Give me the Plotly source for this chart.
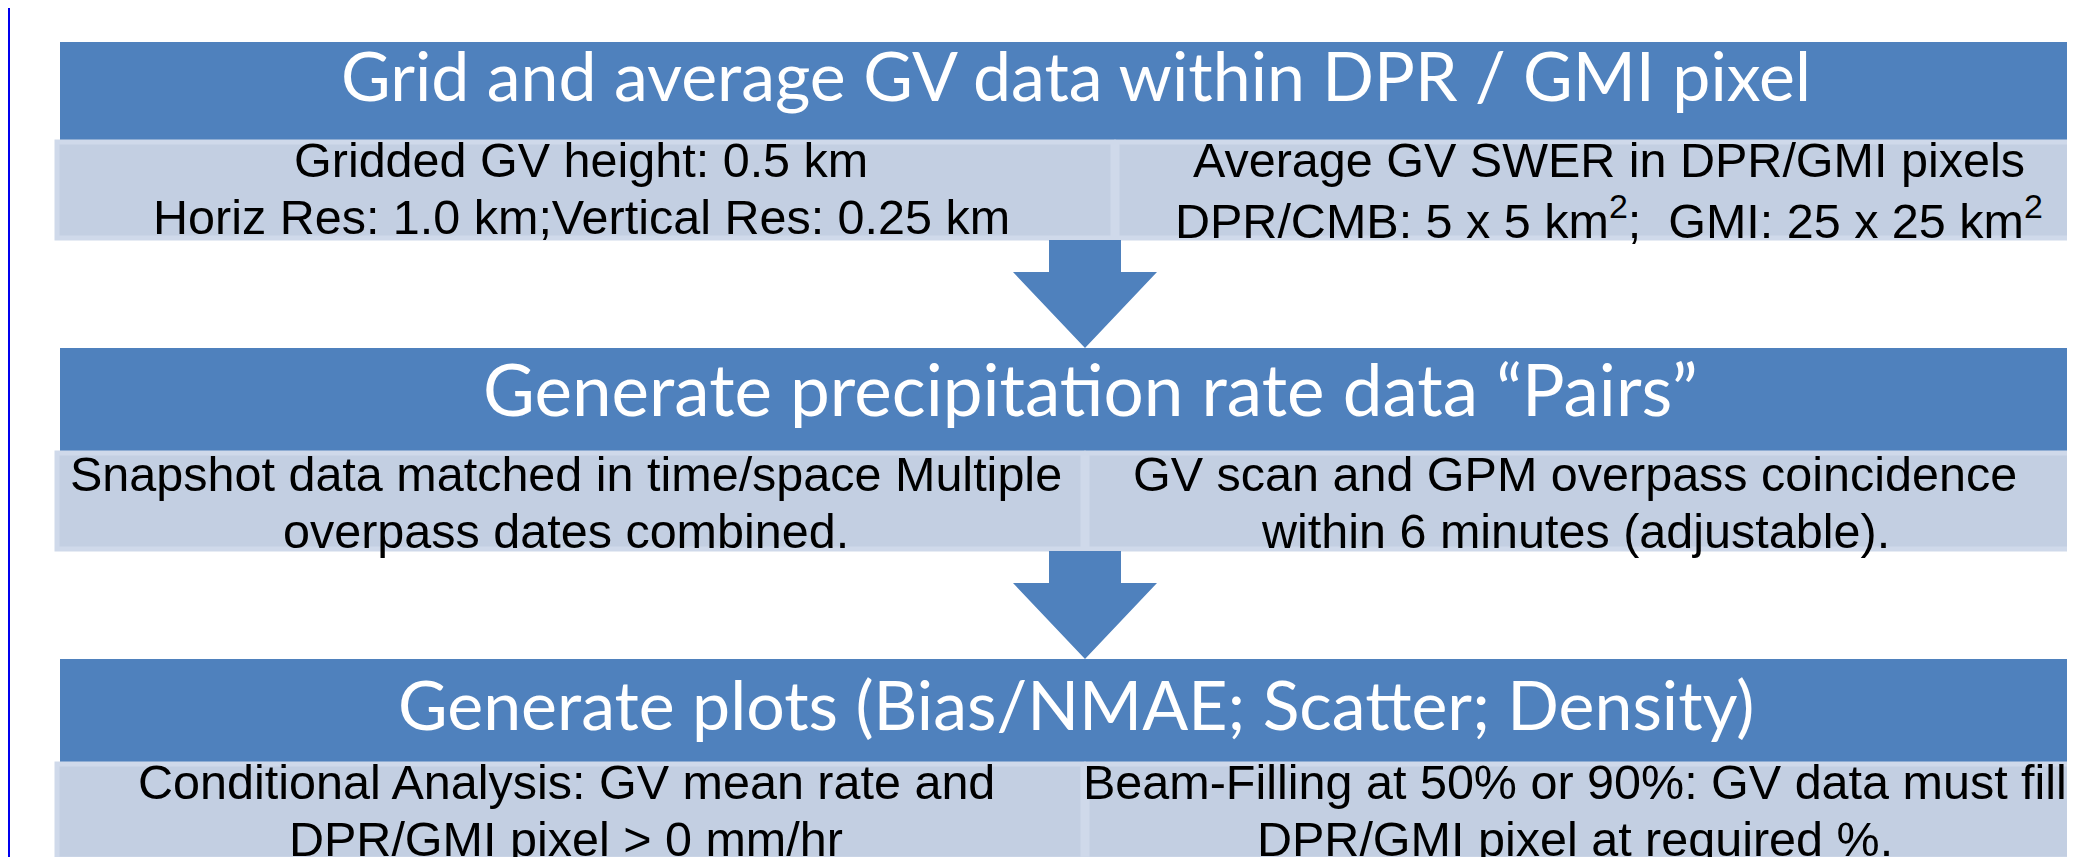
import plotly.graph_objects as go

# text content of the three process steps
step_titles = [
    "Grid and average GV data within DPR / GMI pixel",
    "Generate precipitation rate data \u201cPairs\u201d",
    "Generate plots (Bias/NMAE; Scatter; Density)",
]
left_notes = [
    ["Gridded GV height: 0.5 km", "Horiz Res: 1.0 km;Vertical Res: 0.25 km"],
    ["Snapshot data matched in time/space Multiple", "overpass dates combined."],
    ["Conditional Analysis: GV mean rate and", "DPR/GMI pixel > 0 mm/hr"],
]
right_notes = [
    ["Average GV SWER in DPR/GMI pixels",
     "DPR/CMB: 5 x 5 km<sup>2</sup>;  GMI: 25 x 25 km<sup>2</sup>"],
    ["GV scan and GPM overpass coincidence", "within 6 minutes (adjustable)."],
    ["Beam-Filling at 50% or 90%: GV data must fill", "DPR/GMI pixel at required %."],
]

# layout of the diagram (pixel space of the page)
W, H = 2075, 857
header_top = [34, 340, 651]
header_bottom = [132, 443, 754]
note_bottom = [232, 543, 853]
divider_x = [1107, 1077, 1077]
right_edge = [2103, 2065, 2065]
title_x = [1068, 1082, 1068]
title_y = [66, 380, 695]
title_size = [68, 71, 68]
line_y = [[152, 209], [466, 523], [774, 831]]

HEADER = "#4f81bd"
NOTE_FILL = "#c3cfe2"
NOTE_EDGE = "#cfd9ea"
TITLE_FONT = "Lato, Calibri, Carlito, sans-serif"
BODY_FONT = "Liberation Sans, Arial, sans-serif"

fig = go.Figure()
shapes = []
annotations = []

for i in range(3):
    # blue header band
    shapes.append(dict(type="rect", x0=52, x1=2130, y0=header_top[i], y1=header_bottom[i],
                       fillcolor=HEADER, line_width=0, layer="below"))
    # two light note cells
    for x0, x1 in [(49, divider_x[i] - 2), (divider_x[i] + 2, 2130)]:
        shapes.append(dict(type="rect", x0=x0, x1=x1, y0=header_bottom[i] + 2, y1=note_bottom[i] - 2,
                           fillcolor=NOTE_FILL, line=dict(color=NOTE_EDGE, width=5), layer="below"))
    annotations.append(dict(x=title_x[i], y=title_y[i], text=step_titles[i], showarrow=False,
                            xanchor="center", yanchor="middle",
                            font=dict(family=TITLE_FONT, size=title_size[i], color="white")))
    lc = (47 + divider_x[i]) / 2 - 4
    rc = (divider_x[i] + right_edge[i]) / 2 - 4
    for j in range(2):
        annotations.append(dict(x=lc, y=line_y[i][j], text=left_notes[i][j], showarrow=False,
                                xanchor="center", yanchor="middle",
                                font=dict(family=BODY_FONT, size=48.5, color="black")))
        annotations.append(dict(x=rc, y=line_y[i][j], text=right_notes[i][j], showarrow=False,
                                xanchor="center", yanchor="middle",
                                font=dict(family=BODY_FONT, size=48.5, color="black")))

# down arrows between the steps
for i in range(2):
    top = note_bottom[i]
    shoulder = top + 32
    tip = header_top[i + 1]
    path = (f"M 1041 {top} L 1113 {top} L 1113 {shoulder} L 1149 {shoulder} "
            f"L 1077 {tip} L 1005 {shoulder} L 1041 {shoulder} Z")
    shapes.append(dict(type="path", path=path, fillcolor=HEADER, line_width=0, layer="below"))

# thin blue frame line at the left edge
shapes.append(dict(type="line", x0=1, x1=1, y0=0, y1=H, line=dict(color="#0000ee", width=2)))

fig.update_layout(
    width=W, height=H,
    margin=dict(l=0, r=0, t=0, b=0),
    paper_bgcolor="white", plot_bgcolor="white",
    xaxis=dict(range=[0, W], visible=False, fixedrange=True),
    yaxis=dict(range=[H, 0], visible=False, fixedrange=True),
    shapes=shapes, annotations=annotations,
    showlegend=False,
)

fig.write_html("out.html")
